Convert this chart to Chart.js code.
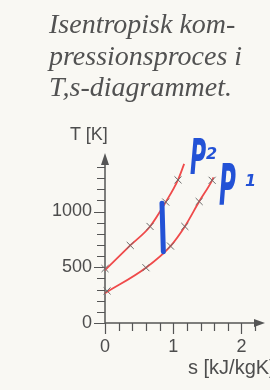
<!DOCTYPE html>
<html>
<head>
<meta charset="utf-8">
<script src="https://cdn.jsdelivr.net/npm/chart.js@4.4.1/dist/chart.umd.min.js"></script>
<style>
  html, body { margin: 0; padding: 0; background: #f9f8f3; overflow: hidden; }
  #wrap { position: relative; width: 270px; height: 390px; overflow: hidden; }
  #c { position: absolute; left: 0; top: 0; }
  .t { position: absolute; white-space: nowrap; }
  #title { left: 49px; top: 8px; font-family: "Liberation Serif", serif; font-style: italic;
           font-size: 28px; line-height: 31.5px; color: #525252; }
  .ax { font-family: "Liberation Sans", Arial, sans-serif; line-height: 1; color: #4d4d4d; }
  .pen { font-family: "DejaVu Sans", sans-serif; font-weight: bold; font-style: italic; color: #2352d6;
         line-height: 1; transform-origin: 0 0; }
</style>
</head>
<body>
<div id="wrap">
  <canvas id="c" width="270" height="390"></canvas>
  <div id="title" class="t">Isentropisk kom-<br>pressionsproces i<br>T,s-diagrammet.</div>
  <div class="t ax" style="left:70px; top:125px; font-size:18px;">T [K]</div>
  <div class="t ax" style="left:188px; top:357px; font-size:20px;">s [kJ/kgK]</div>
  <div class="t pen" style="left:190px; top:131px; font-size:40px; transform:scale(0.55,1.25);">P</div>
  <div class="t pen" style="left:206px; top:146px; font-size:16px;">2</div>
  <div class="t pen" style="left:219px; top:156px; font-size:46px; transform:scale(0.5,1.25);">P</div>
  <div class="t pen" style="left:245px; top:173px; font-size:16px;">1</div>
</div>
<script>
// ---- data ----
const upperS = [0, 0.37, 0.66, 0.89, 1.07, 1.16];
const upperT = [475, 696, 866, 1085, 1284, 1427];
const lowerS = [0, 0.6, 0.96, 1.17, 1.38, 1.57, 1.59];
const lowerT = [268, 496, 690, 866, 1090, 1280, 1307];
const upperMarkS = [0.0, 0.37, 0.66, 0.89, 1.07];
const upperMarkT = [488, 696, 866, 1085, 1284];
const lowerMarkS = [0.03, 0.6, 0.96, 1.17, 1.38, 1.57];
const lowerMarkT = [288, 496, 690, 866, 1090, 1280];
const penS = [0.835, 0.855];
const penT = [1075, 640];
const xTickLabels = [0, 1, 2];
const yTickLabels = [0, 500, 1000];
const xMinorStep = 0.2, xMinorMax = 2.2;
const yMinorStep = 100, yMinorMax = 1400;

const pts = (xs, ys) => xs.map((x, i) => ({x: x, y: ys[i]}));

const axisColor = '#555555';
const axesPlugin = {
  id: 'axesPlugin',
  beforeDatasetsDraw(chart) {
    const ctx = chart.ctx, xs = chart.scales.x, ys = chart.scales.y, a = chart.chartArea;
    const x0 = xs.getPixelForValue(0), y0 = ys.getPixelForValue(0);
    ctx.save();
    ctx.strokeStyle = axisColor; ctx.fillStyle = axisColor; ctx.lineWidth = 1.5;
    ctx.beginPath();
    ctx.moveTo(x0, y0); ctx.lineTo(a.right - 4, y0);
    ctx.moveTo(x0, y0); ctx.lineTo(x0, a.top + 6);
    ctx.stroke();
    ctx.beginPath();
    ctx.moveTo(a.right + 1, y0); ctx.lineTo(a.right - 10, y0 - 4); ctx.lineTo(a.right - 10, y0 + 4); ctx.closePath();
    ctx.fill();
    ctx.beginPath();
    ctx.moveTo(x0, a.top); ctx.lineTo(x0 - 4, a.top + 12); ctx.lineTo(x0 + 4, a.top + 12); ctx.closePath();
    ctx.fill();
    ctx.lineWidth = 1.2;
    ctx.beginPath();
    for (let i = 0; i * xMinorStep <= xMinorMax + 1e-9; i++) {
      const v = i * xMinorStep;
      const major = xTickLabels.some(t => Math.abs(t - v) < 1e-6);
      const px = Math.round(xs.getPixelForValue(v)) + 0.5;
      ctx.moveTo(px, y0); ctx.lineTo(px, y0 + (major ? 11 : 8));
    }
    for (let i = 0; i * yMinorStep <= yMinorMax + 1e-9; i++) {
      const v = i * yMinorStep;
      const major = yTickLabels.some(t => Math.abs(t - v) < 1e-6);
      const py = Math.round(ys.getPixelForValue(v)) + 0.5;
      ctx.moveTo(x0, py); ctx.lineTo(x0 - (major ? 11 : 8), py);
    }
    ctx.stroke();
    ctx.restore();
  }
};

const tickFont = {family: 'Liberation Sans', size: 18};
new Chart(document.getElementById('c'), {
  type: 'scatter',
  data: {
    datasets: [
      {data: pts(penS, penT), showLine: true, borderColor: '#2352d6', borderWidth: 5, pointRadius: 0,
       borderCapStyle: 'round', clip: false, order: 0},
      {data: pts(upperMarkS, upperMarkT), showLine: false, pointStyle: 'crossRot', pointRadius: 5,
       borderColor: '#6a6a6a', borderWidth: 1, clip: false, order: 1},
      {data: pts(lowerMarkS, lowerMarkT), showLine: false, pointStyle: 'crossRot', pointRadius: 5,
       borderColor: '#6a6a6a', borderWidth: 1, clip: false, order: 1},
      {data: pts(upperS, upperT), showLine: true, borderColor: '#ef4a4a', borderWidth: 1.8, pointRadius: 0,
       cubicInterpolationMode: 'monotone', clip: false, order: 2},
      {data: pts(lowerS, lowerT), showLine: true, borderColor: '#ef4a4a', borderWidth: 1.8, pointRadius: 0,
       cubicInterpolationMode: 'monotone', clip: false, order: 2}
    ]
  },
  options: {
    responsive: false, animation: false, devicePixelRatio: 1,
    layout: {padding: {left: 0, right: 0, top: 153, bottom: 0}},
    plugins: {legend: {display: false}, tooltip: {enabled: false}, title: {display: false}},
    scales: {
      x: {
        type: 'linear', min: 0, max: 2.33,
        afterBuildTicks: s => { s.ticks = xTickLabels.map(v => ({value: v})); },
        afterFit: s => { s.height = 67; },
        grid: {display: false, drawTicks: false}, border: {display: false},
        ticks: {padding: 13, color: '#4d4d4d', font: tickFont, maxRotation: 0, autoSkip: false,
                callback: v => String(v)}
      },
      y: {
        type: 'linear', min: 0, max: 1525,
        afterBuildTicks: s => { s.ticks = yTickLabels.map(v => ({value: v})); },
        afterFit: s => { s.width = 105; },
        grid: {display: false, drawTicks: false}, border: {display: false},
        ticks: {padding: 13, color: '#4d4d4d', font: tickFont, autoSkip: false,
                callback: v => String(v)}
      }
    }
  },
  plugins: [axesPlugin]
});
</script>
</body>
</html>
